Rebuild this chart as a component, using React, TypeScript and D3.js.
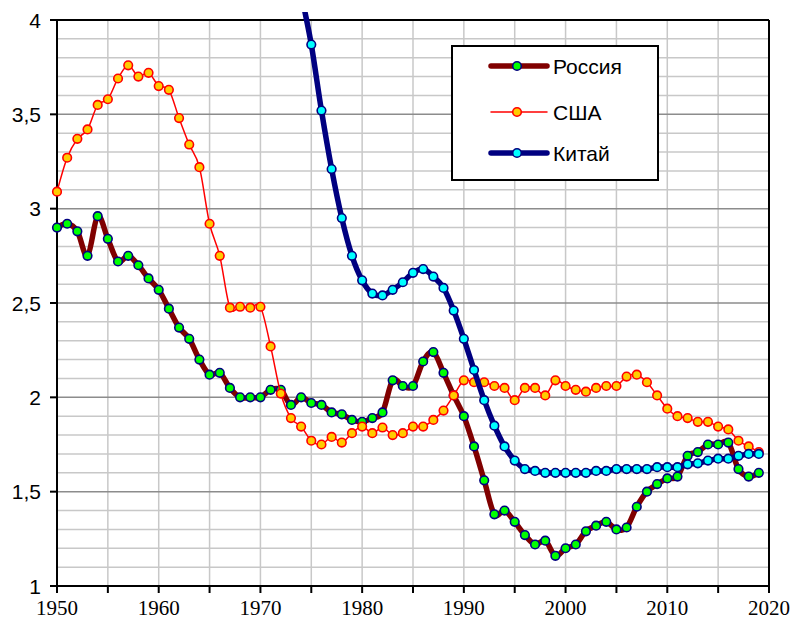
import React from "react";
import * as d3 from "d3";

const W = 791;
const H = 620;

const russiaYears = d3.range(1950, 2020);
const russiaValues = [
  2.9, 2.92, 2.88, 2.75, 2.96, 2.84, 2.72, 2.75, 2.7, 2.63,
  2.57, 2.47, 2.37, 2.31, 2.2, 2.12, 2.13, 2.05, 2.0, 2.0,
  2.0, 2.04, 2.04, 1.96, 2.0, 1.97, 1.96, 1.92, 1.91, 1.88,
  1.87, 1.89, 1.92, 2.09, 2.06, 2.06, 2.19, 2.24, 2.13, 2.01,
  1.9, 1.74, 1.56, 1.38, 1.4, 1.34, 1.27, 1.22, 1.24, 1.16,
  1.2, 1.22, 1.29, 1.32, 1.34, 1.3, 1.31, 1.42, 1.5, 1.54,
  1.57, 1.58, 1.69, 1.71, 1.75, 1.75, 1.76, 1.62, 1.58, 1.6,
];

const usaYears = d3.range(1950, 2020);
const usaValues = [
  3.09, 3.27, 3.37, 3.42, 3.55, 3.58, 3.69, 3.76, 3.7, 3.72,
  3.65, 3.63, 3.48, 3.34, 3.22, 2.92, 2.75, 2.475, 2.48, 2.475,
  2.48, 2.27, 2.02, 1.89, 1.845, 1.77, 1.75, 1.79, 1.76, 1.81,
  1.845, 1.81, 1.84, 1.8, 1.81, 1.845, 1.845, 1.88, 1.93, 2.01,
  2.09, 2.08, 2.08, 2.06, 2.05, 1.985, 2.05, 2.05, 2.01, 2.09,
  2.06, 2.04, 2.03, 2.05, 2.06, 2.06, 2.11, 2.12, 2.08, 2.01,
  1.94, 1.9, 1.89, 1.87, 1.87, 1.845, 1.83, 1.77, 1.74, 1.71,
];

const chinaYears = d3.range(1973, 2020);
const chinaValues = [
  4.5, 4.15, 3.87, 3.52, 3.21, 2.95, 2.75,
  2.62, 2.55, 2.54, 2.57, 2.61, 2.66, 2.68, 2.64, 2.58, 2.46,
  2.31, 2.145, 1.985, 1.85, 1.74, 1.665, 1.62, 1.61, 1.6, 1.6,
  1.6, 1.6, 1.6, 1.61, 1.61, 1.62, 1.62, 1.62, 1.62, 1.63,
  1.63, 1.63, 1.645, 1.65, 1.665, 1.675, 1.675, 1.69, 1.7, 1.7,
];

const xTicks = d3.range(1950, 2021, 10);
const yTicks = [1, 1.5, 2, 2.5, 3, 3.5, 4];
const yTickLabels = ["1", "1,5", "2", "2,5", "3", "3,5", "4"];

const seriesNames = ["Россия", "США", "Китай"];

const series = [
  { name: seriesNames[0], years: russiaYears, values: russiaValues, line: "#800000", lw: 5.5, fill: "#00FF00", stroke: "#000080" },
  { name: seriesNames[1], years: usaYears, values: usaValues, line: "#FF0000", lw: 1.5, fill: "#FFCC00", stroke: "#FF0000" },
  { name: seriesNames[2], years: chinaYears, values: chinaValues, line: "#000080", lw: 5.5, fill: "#00FFFF", stroke: "#000080" },
];

export default function App() {
  const x = d3.scaleLinear().domain([1950, 2020]).range([57, 769]);
  const y = d3.scaleLinear().domain([1, 4]).range([586, 20]);
  const line = d3
    .line<[number, number]>()
    .x((d) => x(d[0]))
    .y((d) => y(d[1]))
    .curve(d3.curveCatmullRom.alpha(0));

  const minorY = d3.range(11, 40).map((v) => v / 10).filter((v) => Math.abs(v * 2 - Math.round(v * 2)) > 1e-6);
  const majorY = [1.5, 2, 2.5, 3, 3.5];
  const vGrid = d3.range(1955, 2020, 5);
  const xTickAll = d3.range(1950, 2021, 5);

  const r = 4.3;

  return (
    <svg width={W} height={H} style={{ position: "absolute", left: 0, top: 0, background: "#fff" }}>
      <defs>
        <clipPath id="area">
          <rect x={0} y={12} width={W} height={H - 12} />
        </clipPath>
      </defs>
      <rect x={0} y={0} width={W} height={H} fill="#fff" />
      {vGrid.map((yr) => (
        <line key={"v" + yr} x1={x(yr)} x2={x(yr)} y1={y(4)} y2={y(1)} stroke="#C8C8C8" strokeWidth={1.5} />
      ))}
      {minorY.map((v) => (
        <line key={"m" + v} x1={x(1950)} x2={x(2020)} y1={y(v)} y2={y(v)} stroke="#C8C8C8" strokeWidth={1.5} />
      ))}
      {majorY.map((v) => (
        <line key={"M" + v} x1={x(1950)} x2={x(2020)} y1={y(v)} y2={y(v)} stroke="#8C8C8C" strokeWidth={1.5} />
      ))}
      <line x1={x(1950)} x2={x(2020)} y1={y(4)} y2={y(4)} stroke="#000" strokeWidth={2} />
      <line x1={x(2020)} x2={x(2020)} y1={y(4)} y2={y(1)} stroke="#000" strokeWidth={2} />
      <line x1={x(1950)} x2={x(1950)} y1={y(4)} y2={y(1)} stroke="#000" strokeWidth={2} />
      <line x1={x(1950) - 7} x2={x(2020)} y1={y(1)} y2={y(1)} stroke="#000" strokeWidth={2} />
      {yTicks.map((v) => (
        <line key={"yt" + v} x1={x(1950) - 7} x2={x(1950)} y1={y(v)} y2={y(v)} stroke="#000" strokeWidth={2} />
      ))}
      {xTickAll.map((yr) => (
        <line key={"xt" + yr} x1={x(yr)} x2={x(yr)} y1={y(1)} y2={y(1) + 7} stroke="#000" strokeWidth={2} />
      ))}
      {yTicks.map((v, i) => (
        <text key={"yl" + v} x={x(1950) - 16} y={y(v) + 7.5} textAnchor="end" fontFamily="Liberation Sans, Arial, sans-serif" fontSize={21} fill="#000">
          {yTickLabels[i]}
        </text>
      ))}
      {xTicks.map((yr) => (
        <text key={"xl" + yr} x={x(yr)} y={615} textAnchor="middle" fontFamily="Liberation Serif, Times New Roman, serif" fontSize={21} fill="#000">
          {yr}
        </text>
      ))}
      <g clipPath="url(#area)">
        {series.map((s) => {
          const pts = s.years.map((yr, i) => [yr, s.values[i]] as [number, number]);
          return (
            <g key={s.name}>
              <path d={line(pts) || ""} fill="none" stroke={s.line} strokeWidth={s.lw} strokeLinejoin="round" strokeLinecap="round" />
              {pts.map((p) => (
                <circle key={p[0]} cx={x(p[0])} cy={y(p[1])} r={r} fill={s.fill} stroke={s.stroke} strokeWidth={1.6} />
              ))}
            </g>
          );
        })}
      </g>
      <rect x={452} y={46} width={206} height={134} fill="#fff" stroke="#000" strokeWidth={2} />
      {series.map((s, i) => {
        const ly = [66, 112, 153][i];
        return (
          <g key={"lg" + s.name}>
            <line x1={491} x2={547} y1={ly} y2={ly} stroke={s.line} strokeWidth={s.lw} strokeLinecap="round" />
            <circle cx={517} cy={ly} r={r} fill={s.fill} stroke={s.stroke} strokeWidth={1.6} />
            <text x={553} y={ly + 7.5} fontFamily="Liberation Sans, Arial, sans-serif" fontSize={21} fill="#000">
              {s.name}
            </text>
          </g>
        );
      })}
    </svg>
  );
}
